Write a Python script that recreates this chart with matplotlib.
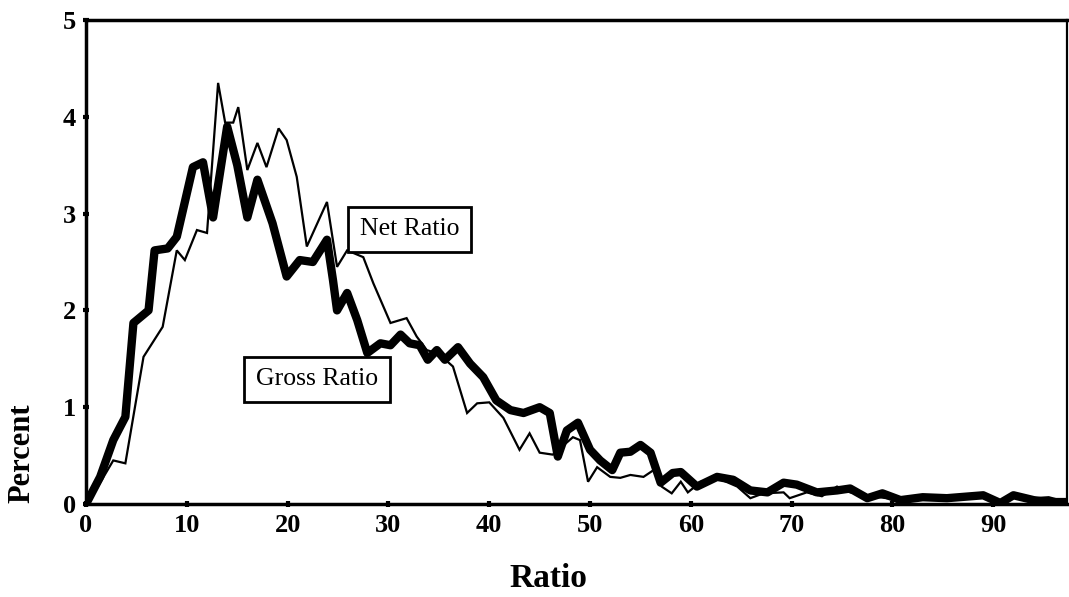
import matplotlib
matplotlib.use("Agg")
import matplotlib.pyplot as plt

# values
gross_x = [0, 1.4, 2.7, 3.9, 4.7, 6.2, 6.8, 8.1, 9.0, 10.6, 11.6, 12.6, 14.0, 15.0, 16.0,
           17.0, 18.5, 19.9, 21.2, 22.5, 23.9, 24.5, 24.9, 25.9, 26.9, 27.9, 29.2, 30.2,
           31.2, 32.1, 33.1, 33.9, 34.8, 35.6, 36.9, 38.1, 39.4, 40.7, 42.1, 43.4, 45.0,
           46.0, 46.8, 47.7, 48.8, 50.0, 51.0, 52.2, 53.0, 54.0, 55.0, 56.0, 57.0, 58.2,
           59.0, 60.6, 62.6, 64.2, 65.9, 67.6, 69.2, 70.5, 72.5, 74.5, 75.8, 77.5, 79.0,
           80.8, 83.0, 85.4, 89.0, 90.7, 92.0, 94.0, 95.3, 97.3]
gross_y = [0, 0.28, 0.66, 0.90, 1.87, 2.00, 2.62, 2.64, 2.76, 3.48, 3.53, 2.96, 3.90, 3.50, 2.96,
           3.35, 2.90, 2.35, 2.52, 2.50, 2.73, 2.31, 2.00, 2.18, 1.90, 1.56, 1.66, 1.64,
           1.75, 1.66, 1.64, 1.49, 1.59, 1.49, 1.62, 1.45, 1.31, 1.07, 0.97, 0.94, 1.00,
           0.94, 0.49, 0.76, 0.84, 0.56, 0.45, 0.35, 0.53, 0.54, 0.61, 0.53, 0.22, 0.32,
           0.33, 0.18, 0.28, 0.25, 0.14, 0.12, 0.22, 0.20, 0.12, 0.14, 0.16, 0.06, 0.11,
           0.04, 0.07, 0.06, 0.09, 0.01, 0.09, 0.04, 0.02, 0.02]

net_x = [0, 1.0, 2.7, 3.9, 5.7, 7.6, 9.0, 9.8, 11.0, 12.0, 13.1, 13.8, 14.6, 15.1, 16.0,
         17.0, 17.9, 19.1, 19.9, 20.9, 21.9, 23.9, 24.9, 25.9, 27.5, 28.5, 30.2, 31.8,
         32.8, 33.8, 35.0, 36.4, 37.8, 38.8, 40.0, 41.4, 43.0, 44.0, 45.0, 46.3, 48.3,
         49.0, 49.8, 50.7, 52.0, 53.0, 54.0, 55.3, 56.3, 57.1, 58.1, 59.0, 59.7, 61.0,
         62.6, 64.6, 65.9, 67.2, 69.2, 69.8, 71.5, 73.0, 74.5, 75.8, 78.0, 80.8, 83.0,
         86.0, 89.0, 90.7, 92.7, 94.0, 95.5, 97.3]
net_y = [0, 0.15, 0.45, 0.42, 1.52, 1.83, 2.62, 2.52, 2.83, 2.80, 4.35, 3.94, 3.94, 4.10, 3.45,
         3.73, 3.48, 3.88, 3.76, 3.38, 2.66, 3.12, 2.45, 2.62, 2.55, 2.28, 1.87, 1.92,
         1.73, 1.59, 1.55, 1.42, 0.94, 1.04, 1.05, 0.89, 0.56, 0.73, 0.53, 0.51, 0.69,
         0.66, 0.23, 0.38, 0.28, 0.27, 0.30, 0.28, 0.35, 0.18, 0.11, 0.23, 0.12, 0.23,
         0.27, 0.18, 0.06, 0.11, 0.12, 0.06, 0.12, 0.08, 0.18, 0.12, 0.08, 0.04, 0.06,
         0.05, 0.07, 0.03, 0.09, 0.06, 0.07, 0.02]

x_ticks = [0, 10, 20, 30, 40, 50, 60, 70, 80, 90]
y_ticks = [0, 1, 2, 3, 4, 5]

plt.rcParams['font.family'] = ['Liberation Serif', 'DejaVu Serif']

fig = plt.figure(figsize=(10.69, 5.97), dpi=100)
ax = fig.add_axes([0.0805, 0.1558, 0.9175, 0.8107])

ax.plot(net_x, net_y, color="black", lw=1.6, solid_joinstyle="miter")
ax.plot(gross_x, gross_y, color="black", lw=6, solid_joinstyle="round")

ax.set_xlim(0, 97.3)
ax.set_ylim(0, 5)
ax.set_xticks(x_ticks)
ax.set_yticks(y_ticks)
ax.tick_params(direction="inout", length=5, width=3, labelsize=19, pad=5)
for lab in ax.get_xticklabels() + ax.get_yticklabels():
    lab.set_fontweight("bold")

for side in ["left", "bottom", "top"]:
    ax.spines[side].set_linewidth(2.5)
ax.spines["right"].set_linewidth(1.6)

ax.set_xlabel("Ratio", fontsize=24, fontweight="bold")
ax.set_ylabel("Percent", fontsize=22, fontweight="bold")
ax.xaxis.set_label_coords(0.471, -0.153)
ax.yaxis.set_label_coords(-0.065, 0.105)
ax.xaxis.label.set_va("center")
ax.yaxis.label.set_va("center")

box = dict(boxstyle="square,pad=0.45", facecolor="white", edgecolor="black", lw=2)
ax.text(32.1, 2.84, "Net Ratio", fontsize=18.5, ha="center", va="center", bbox=box)
ax.text(22.9, 1.29, "Gross Ratio", fontsize=18.5, ha="center", va="center", bbox=box)

fig.savefig("out.png", dpi=100)
